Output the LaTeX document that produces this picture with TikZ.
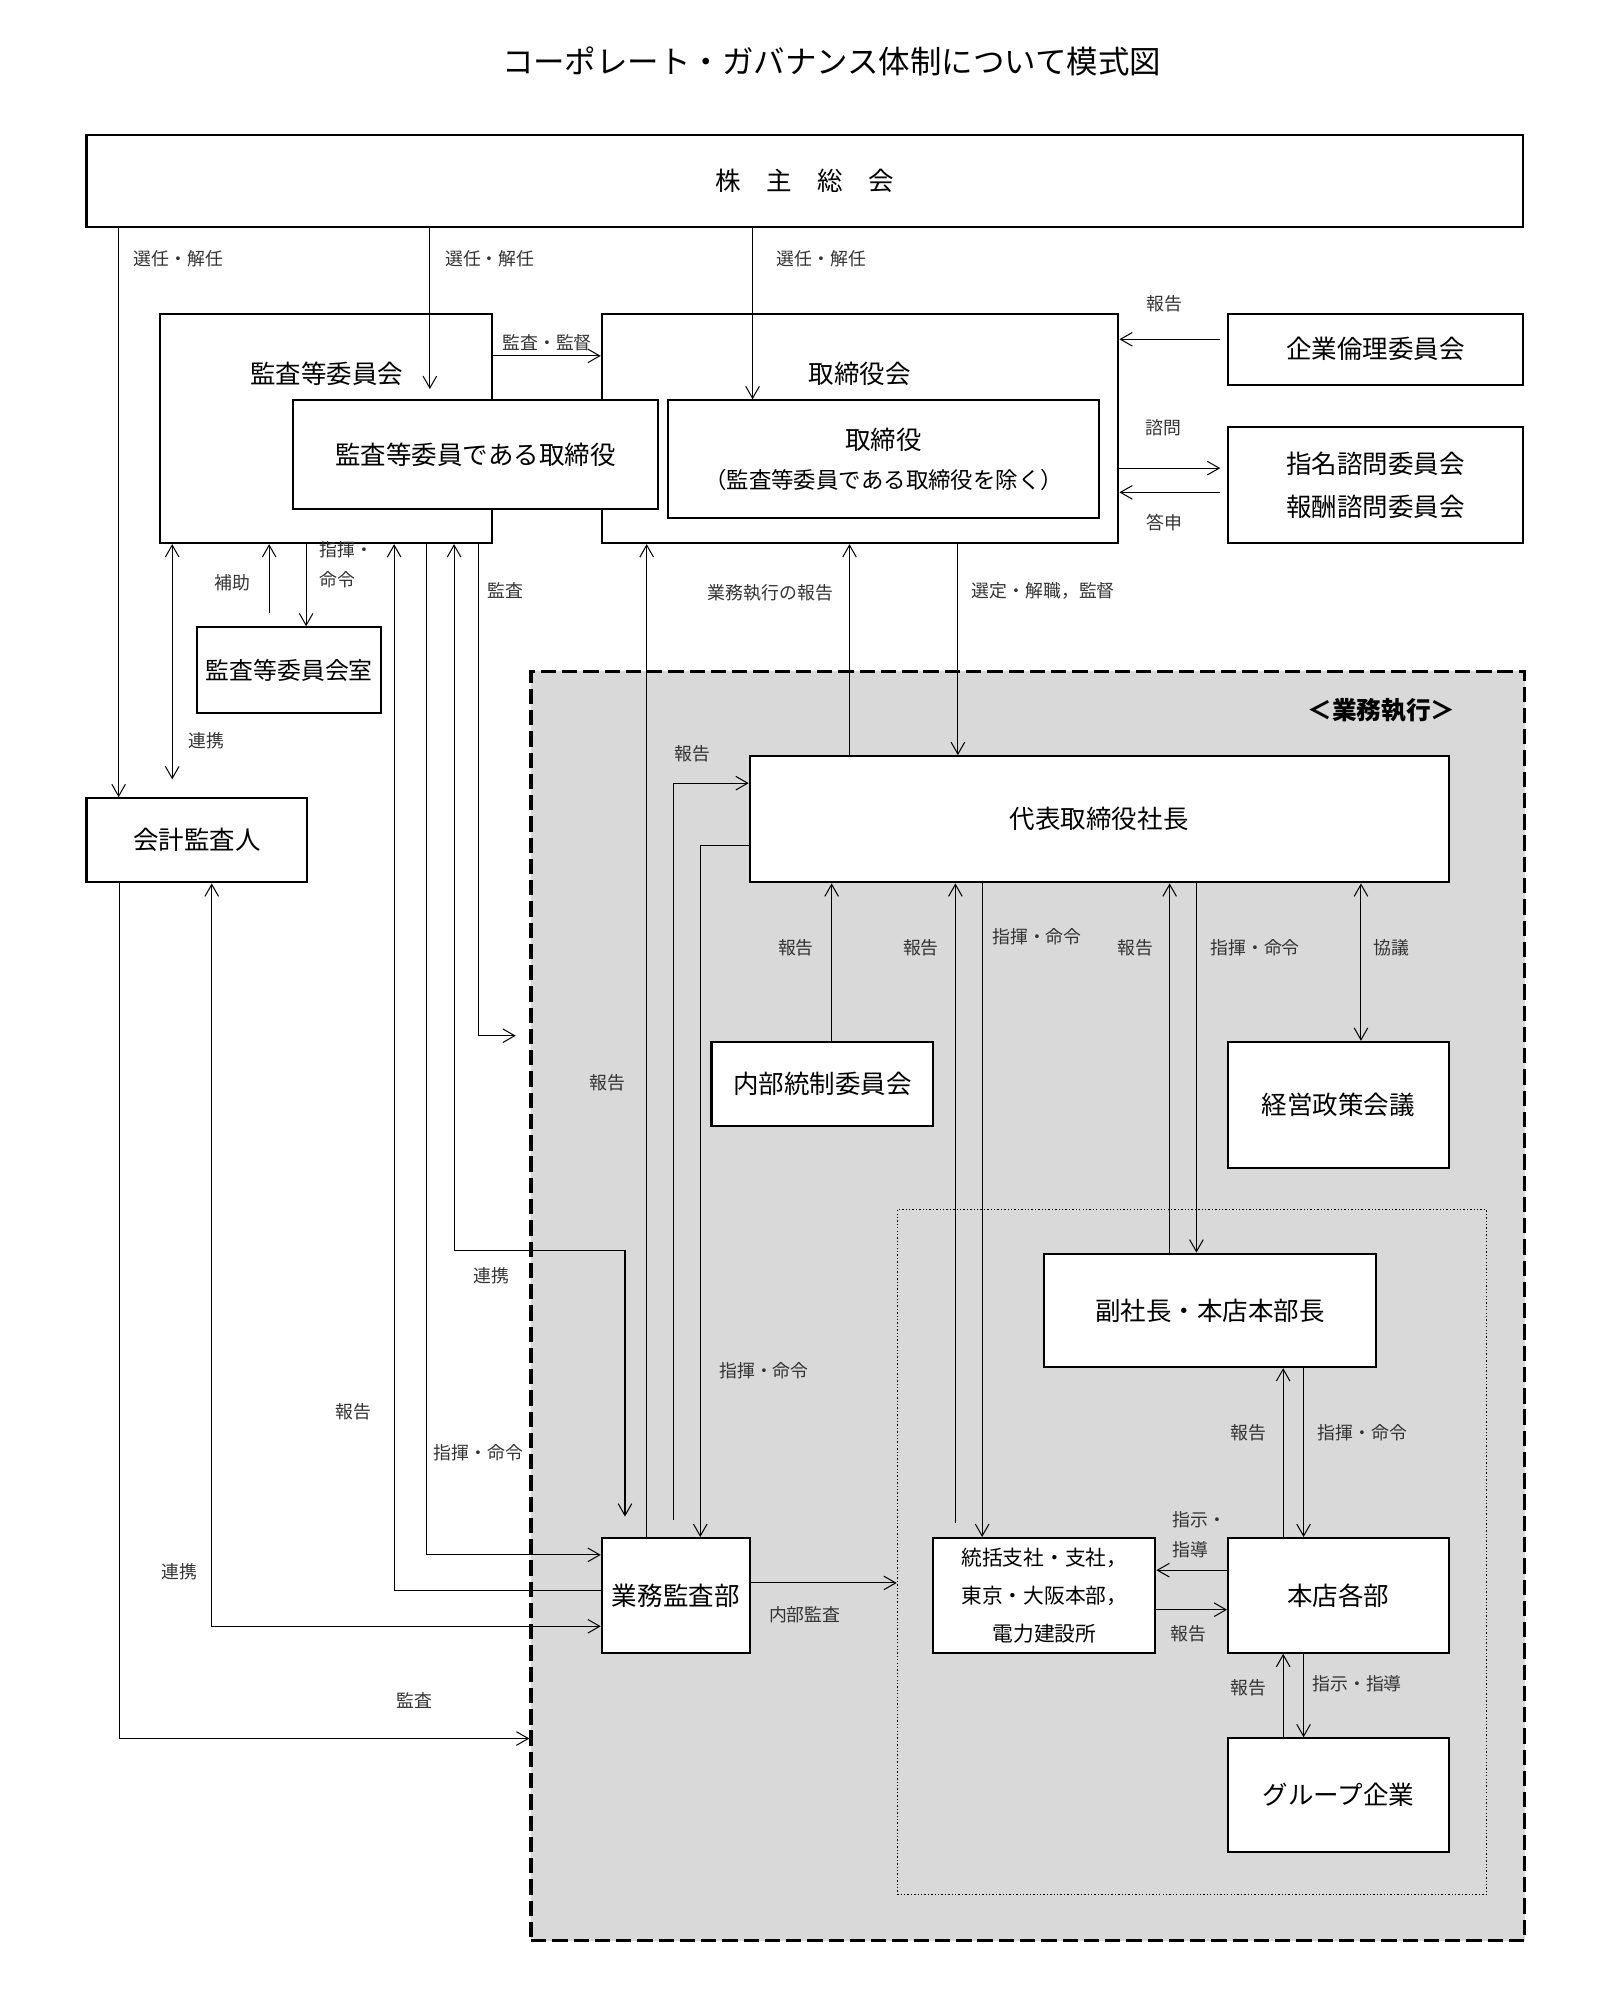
\documentclass[tikz,border=0pt]{standalone}
\usepackage{fontspec}
\setmainfont{Noto Sans CJK JP}
\usetikzlibrary{arrows.meta}

\tikzset{every picture/.style={line width=0.6pt}}
\tikzset{
  sz/.style 2 args={minimum width=#1*0.75pt, minimum height=#2*0.75pt},
  box/.style={draw, line width=1.2pt, fill=white, anchor=north west, inner sep=0pt, align=center, font=\fontsize{15}{24}\selectfont},
  boxsm/.style={box, font=\fontsize{12.2}{22.5}\selectfont},
  head/.style={inner sep=0pt, font=\fontsize{15}{18}\selectfont},
  lbl/.style={inner sep=0pt, text=black!80, align=left, font=\fontsize{10.5}{17.5}\selectfont},
  arr/.style={-{Straight Barb[length=7pt,width=8pt]}},
  darr/.style={{Straight Barb[length=7pt,width=8pt]}-{Straight Barb[length=7pt,width=8pt]}},
  execarea/.style={draw, anchor=north west, inner sep=0pt, line width=2pt, dash pattern=on 9pt off 3.5pt, fill=black!15},
  grouparea/.style={draw, anchor=north west, inner sep=0pt, line width=0.6pt, dash pattern=on 0.8pt off 1.2pt}
}

\begin{document}
\begin{tikzpicture}[x=0.75pt,y=0.75pt,yscale=-1,xscale=1]
    \useasboundingbox (0,0) rectangle (1269,1568);

    % Title
    \node[inner sep=0pt, font=\fontsize{18.5}{22}\selectfont] (title) at (652,48) {コーポレート・ガバナンス体制について模式図};

    % Areas
    \node[execarea, sz={779}{995}] (exec) at (415,525) {};
    \node[inner sep=0pt, font=\bfseries\fontsize{14.5}{18}\selectfont] (exec-t) at (1083,557) {＜業務執行＞};
    \node[grouparea, sz={462}{537}] (grpa) at (703,948) {};

    % Boxes
    \node[box, sz={1126}{72}] (sh) at (67,105) {株　主　総　会};
    \node[box, sz={260}{180}] (acb) at (125,245) {};
    \node[head] (acb-t) at (256,293) {監査等委員会};
    \node[box, sz={405}{180}] (bod) at (471,245) {};
    \node[head] (bod-t) at (674,293) {取締役会};
    \node[box, sz={286}{85}] (acd) at (229,313) {監査等委員である取締役};
    \node[box, sz={338}{92}, font=\fontsize{15}{23}\selectfont] (dir) at (523,313) {取締役\\{\fontsize{13.2}{23}\selectfont （監査等委員である取締役を除く）}};
    \node[box, sz={231}{56}] (eth) at (962,245) {企業倫理委員会};
    \node[box, sz={231}{91}, font=\fontsize{15}{25}\selectfont] (adv) at (962,334) {指名諮問委員会\\報酬諮問委員会};
    \node[box, sz={144}{67}, font=\fontsize{14}{18}\selectfont] (acr) at (154,491) {監査等委員会室};
    \node[box, sz={173}{66}] (ext) at (67,625) {会計監査人};

    \node[box, sz={548}{99}] (ceo) at (587,592) {代表取締役社長};
    \node[box, sz={174}{66}] (icc) at (557,816) {内部統制委員会};
    \node[box, sz={173}{99}] (mpc) at (962,816) {経営政策会議};
    \node[box, sz={260}{89}] (vp) at (818,982) {副社長・本店本部長};
    \node[box, sz={116}{90}] (iad) at (471,1205) {業務監査部};
    \node[boxsm, sz={174}{90}] (brn) at (731,1205) {統括支社・支社，\\東京・大阪本部，\\電力建設所};
    \node[box, sz={173}{90}] (hqd) at (962,1205) {本店各部};
    \node[box, sz={173}{89}] (grp) at (962,1362) {グループ企業};

    % Connectors from the shareholders' meeting
    \draw[arr] (93,0 |- sh.south) -- (93,0 |- ext.north);
    \draw[arr, shorten >=6pt] (337,0 |- sh.south) -- (337,0 |- acd.north);
    \draw[arr] (590,0 |- sh.south) -- (590,0 |- dir.north);

    % Board level
    \draw[arr] (acb.east |- 0,279) -- (bod.west |- 0,279);
    \draw[arr, shorten <=4pt] (eth.west |- 0,266) -- (bod.east |- 0,266);
    \draw[arr, shorten >=4pt] (bod.east |- 0,367) -- (adv.west |- 0,367);
    \draw[arr, shorten <=4pt] (adv.west |- 0,386) -- (bod.east |- 0,386);

    % Audit committee lines
    \draw[darr, shorten >=10.5pt] (135,0 |- acb.south) -- (135,0 |- ext.north);
    \draw[arr, shorten <=8pt] (211,0 |- acr.north) -- (211,0 |- acb.south);
    \draw[arr] (240,0 |- acb.south) -- (240,0 |- acr.north);
    \draw[arr] (iad.west |- 0,1247) -| (309,0 |- acb.south);
    \draw[arr] (334,0 |- acb.south) |- (iad.west |- 0,1219);
    \draw[darr, shorten >=12pt] (356,0 |- acb.south) -- (356,980) -| (490,0 |- iad.north);
    \draw[arr, shorten >=8pt] (375,0 |- acb.south) |- (exec.west |- 0,812);

    % Accounting auditor
    \draw[darr] (166,0 |- ext.south) |- (iad.west |- 0,1275);
    \draw[arr] (94,0 |- ext.south) |- (exec.west |- 0,1363);

    % Internal audit dept
    \draw[arr] (507,0 |- iad.north) -- (507,0 |- bod.south);
    \draw[arr, shorten <=10pt] (528,0 |- iad.north) |- (ceo.west |- 0,614);
    \draw[arr] (ceo.west |- 0,663) -| (549,0 |- iad.north);
    \draw[arr] (iad.east |- 0,1241) -- (grpa.west |- 0,1241);

    % President
    \draw[arr] (666,0 |- ceo.north) -- (666,0 |- bod.south);
    \draw[arr] (751,0 |- bod.south) -- (751,0 |- ceo.north);
    \draw[arr] (652,0 |- icc.north) -- (652,0 |- ceo.south);
    \draw[arr, shorten <=8pt] (749,0 |- brn.north) -- (749,0 |- ceo.south);
    \draw[arr] (770,0 |- ceo.south) -- (770,0 |- brn.north);
    \draw[arr] (917,0 |- vp.north) -- (917,0 |- ceo.south);
    \draw[arr] (938,0 |- ceo.south) -- (938,0 |- vp.north);
    \draw[darr] (1067,0 |- ceo.south) -- (1067,0 |- mpc.north);

    % Group
    \draw[arr] (1006,0 |- hqd.north) -- (1006,0 |- vp.south);
    \draw[arr] (1022,0 |- vp.south) -- (1022,0 |- hqd.north);
    \draw[arr] (hqd.west |- 0,1231) -- (brn.east |- 0,1231);
    \draw[arr] (brn.east |- 0,1262) -- (hqd.west |- 0,1262);
    \draw[arr] (1006,0 |- grp.north) -- (1006,0 |- hqd.south);
    \draw[arr] (1022,0 |- hqd.south) -- (1022,0 |- grp.north);

    % Labels
    \node[lbl] (l-el1) at (140,203) {選任・解任};
    \node[lbl] (l-el2) at (384,203) {選任・解任};
    \node[lbl] (l-el3) at (644,203) {選任・解任};
    \node[lbl] (l-sup) at (429,269) {監査・監督};
    \node[lbl] (l-eth) at (913,238) {報告};
    \node[lbl] (l-cons) at (912,335) {諮問};
    \node[lbl] (l-ans) at (913,410) {答申};
    \node[lbl] (l-help) at (182,457) {補助};
    \node[lbl, anchor=west] (l-cmd1) at (250,442.5) {指揮・\\命令};
    \node[lbl] (l-co1) at (162,581) {連携};
    \node[lbl] (l-aud1) at (396,463) {監査};
    \node[lbl] (l-exrep) at (604,465) {業務執行の報告};
    \node[lbl] (l-appt) at (818,463) {選定・解職，監督};
    \node[lbl] (l-rep1) at (543,591) {報告};
    \node[lbl] (l-rep2) at (624,743) {報告};
    \node[lbl] (l-rep3) at (722,743) {報告};
    \node[lbl] (l-cmd2) at (813,734) {指揮・命令};
    \node[lbl] (l-rep4) at (890,743) {報告};
    \node[lbl] (l-cmd3) at (984,743) {指揮・命令};
    \node[lbl] (l-disc) at (1091,743) {協議};
    \node[lbl] (l-rep5) at (476,849) {報告};
    \node[lbl] (l-co2) at (385,1000) {連携};
    \node[lbl] (l-cmd4) at (599,1075) {指揮・命令};
    \node[lbl] (l-rep6) at (277,1107) {報告};
    \node[lbl] (l-cmd5) at (375,1139) {指揮・命令};
    \node[lbl] (l-co3) at (141,1232) {連携};
    \node[lbl] (l-ia) at (631,1266) {内部監査};
    \node[lbl] (l-aud2) at (325,1333) {監査};
    \node[lbl] (l-rep7) at (979,1123) {報告};
    \node[lbl] (l-cmd6) at (1068,1123) {指揮・命令};
    \node[lbl, anchor=west] (l-ins1) at (919,1203) {指示・\\指導};
    \node[lbl] (l-rep8) at (932,1281) {報告};
    \node[lbl] (l-rep9) at (979,1323) {報告};
    \node[lbl] (l-ins2) at (1064,1320) {指示・指導};
\end{tikzpicture}
\end{document}
